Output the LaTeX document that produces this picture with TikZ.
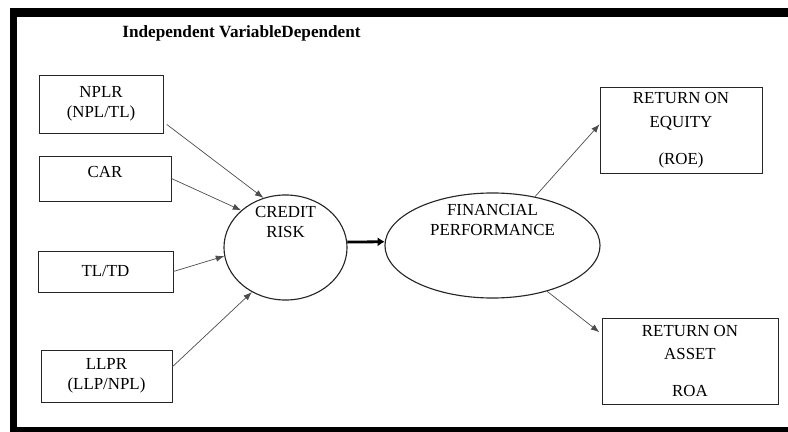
\documentclass[tikz,border=0pt]{standalone}
\usepackage{fontspec}
\setmainfont{Liberation Serif}
\usetikzlibrary{shapes.geometric, arrows.meta}

\begin{document}
\begin{tikzpicture}[x=0.025cm, y=-0.025cm, >={Latex[length=6pt, width=4.5pt]},
        varbox/.style={draw=black!85, line width=0.6pt, inner sep=0pt, align=center,
            font=\fontsize{12}{14}\selectfont},
        riskell/.style={ellipse, draw=black!85, line width=0.8pt, inner sep=0pt},
        link/.style={->, black!70, line width=0.5pt}]
    \useasboundingbox (0,0) rectangle (788,432);

    % frame
    \fill (10,8) rectangle (788,17);
    \fill (10,8) rectangle (17,432);
    \fill (10,427) rectangle (788,432);

    \node[font=\fontsize{12.2}{14}\selectfont\bfseries] (title) at (241.5,33) {Independent VariableDependent};

    % independent variables
    \node[varbox, minimum width=3.1cm, minimum height=1.45cm] (nplr) at (101,104) {NPLR\\(NPL/TL)};
    \node[varbox, minimum width=3.3cm, minimum height=1.125cm, text depth=9pt] (car) at (105,178.5) {CAR};
    \node[varbox, minimum width=3.375cm, minimum height=1.025cm] (tltd) at (105.5,271.5) {TL/TD};
    \node[varbox, minimum width=3.275cm, minimum height=1.3cm] (llpr) at (106.5,376) {LLPR\\(LLP/NPL)};

    % dependent variables
    \node[varbox, minimum width=4.05cm, minimum height=2.15cm] (roe) at (681,130) {RETURN ON\\[3pt]EQUITY\\[12pt](ROE)};
    \node[varbox, minimum width=4.4cm, minimum height=2.15cm] (roa) at (690,361) {RETURN ON\\[2pt]ASSET\\[12pt]ROA};

    \node[riskell, minimum width=3.075cm, minimum height=2.625cm,
        label={[align=center, yshift=18pt, font=\fontsize{12}{14}\selectfont]center:CREDIT\\RISK}] (cr) at (285.5,247.5) {};
    \node[riskell, minimum width=5.375cm, minimum height=2.625cm,
        label={[align=center, yshift=18pt, font=\fontsize{12}{14}\selectfont]center:FINANCIAL\\PERFORMANCE}] (fp) at (492.5,245.5) {};

    \draw[link, shorten <=3pt] (nplr.-16) -- (cr.114);
    \draw[link] (car.east) -- (cr.140);
    \draw[link] (tltd.east) -- (cr.188);
    \draw[link] (llpr.8) -- (cr.233);

    \draw[->, line width=2pt, >={Latex[length=5pt, width=6.5pt]}] (cr.5) -- (fp.178);

    \draw[link] (fp.49) -- (roe.176);
    \draw[link, shorten >=2pt] (fp.-40) -- (roa.163);
\end{tikzpicture}
\end{document}
